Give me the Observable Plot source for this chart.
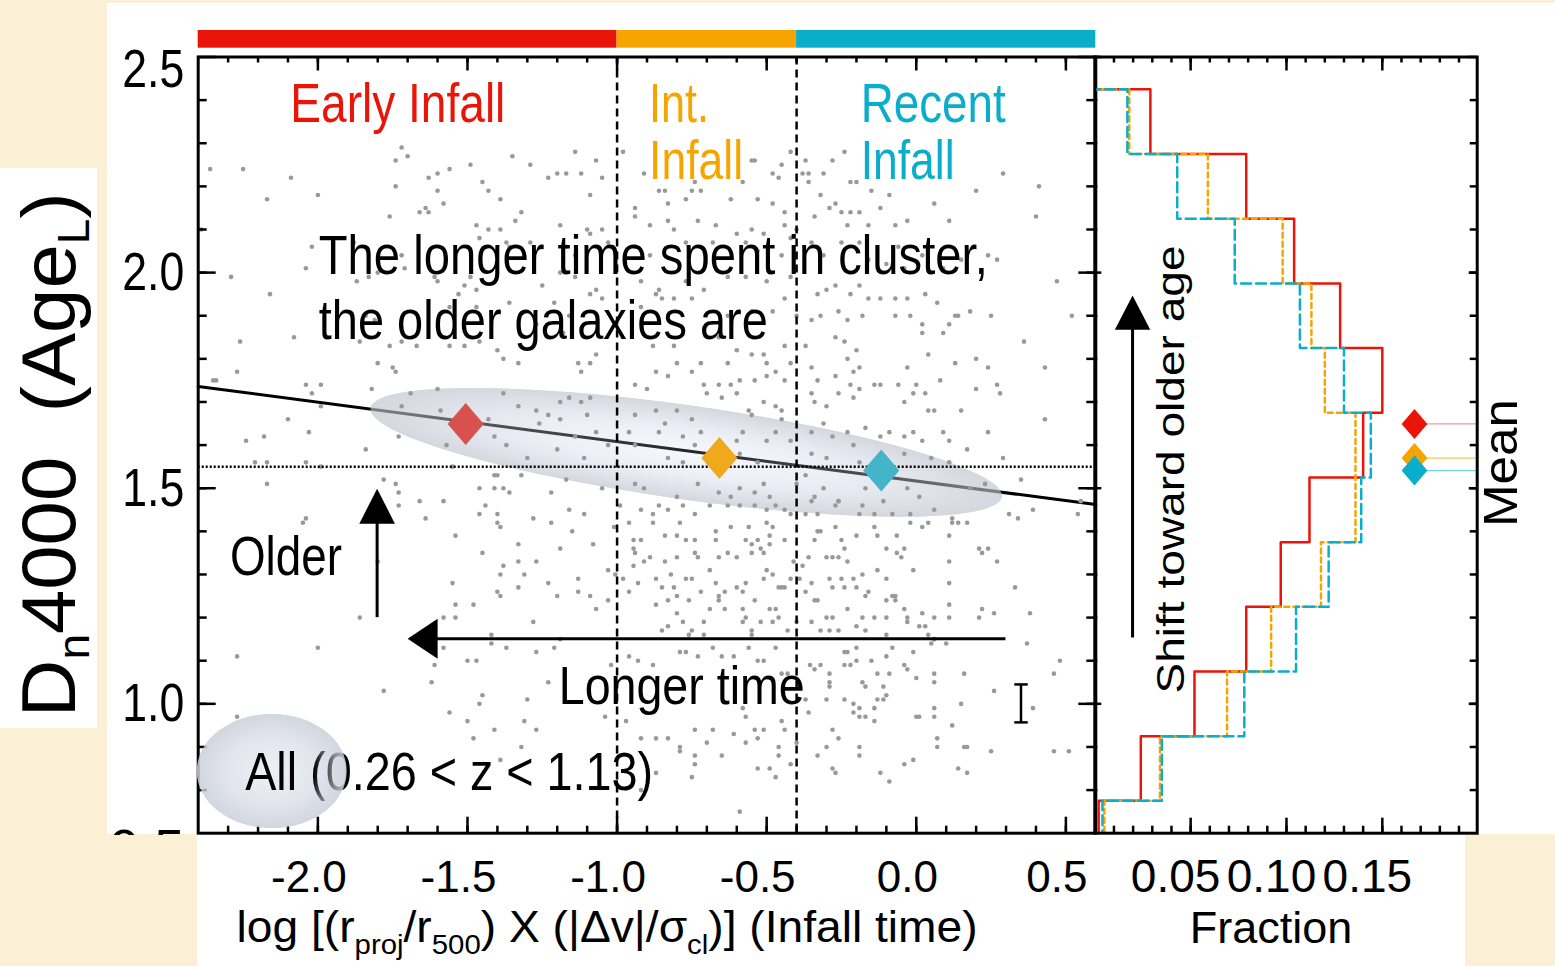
<!DOCTYPE html>
<html><head><meta charset="utf-8">
<script src="https://cdn.jsdelivr.net/npm/d3@7"></script>
<script src="https://cdn.jsdelivr.net/npm/@observablehq/plot@0.6"></script>
<style>
html,body{margin:0;padding:0;background:#fbf0d6;width:1555px;height:966px;overflow:hidden;}
#wrap{position:relative;width:1555px;height:966px;}
.w{position:absolute;background:#fff;}
#wrap svg{position:absolute;left:0;top:0;overflow:visible;}
</style></head><body><div id="wrap">
<div class="w" style="left:107px;top:3px;width:1448px;height:831px"></div>
<div class="w" style="left:197px;top:834px;width:1268px;height:132px"></div>
<div class="w" style="left:0;top:168px;width:97px;height:560px"></div>
</div>
<script>
// ---------------- data ----------------
const groupNames = ["Early Infall", "Int. Infall", "Recent Infall"];
const groupBounds = [-2.4, -1.0, -0.4, 0.6];
const meanX = [-1.506, -0.658, -0.117];
const meanY = [1.649, 1.570, 1.541];
const fitLine = [{x: -2.4, y: 1.736}, {x: 0.6, y: 1.462}];
const referenceLevel = 1.55;
const bigEllipseEnds = [[-1.822, 1.685], [0.288, 1.479]];
const allEllipseEnds = [[-2.403, 0.843], [-1.902, 0.843]];
const errorBar = {x: 0.35, lo: 0.957, hi: 1.045};
const xTicksMajor = [-2.0, -1.5, -1.0, -0.5, 0.0, 0.5];
const yTicksMajor = [1.0, 1.5, 2.0, 2.5];
const fracTicksMajor = [0.05, 0.10, 0.15];
const binCenters = [0.70, 0.85, 1.00, 1.15, 1.30, 1.45, 1.60, 1.75, 1.90, 2.05, 2.20, 2.35, 2.50];
const binWidth = 0.15;
const earlyFrac  = [0.002, 0.024, 0.052, 0.079, 0.097, 0.112, 0.140, 0.150, 0.128, 0.104, 0.079, 0.029, 0.0];
const interFrac  = [0.005, 0.034, 0.069, 0.092, 0.118, 0.136, 0.136, 0.120, 0.113, 0.098, 0.059, 0.018, 0.0];
const recentFrac = [0.004, 0.035, 0.078, 0.105, 0.122, 0.139, 0.144, 0.130, 0.107, 0.073, 0.043, 0.017, 0.0];
const meanMarkFrac = 0.1668;
// galaxies: upper part of the cloud
const galaxiesUpper = [
[-1.18,1.86],[-0.88,1.83],[-0.81,1.83],[-0.66,1.85],[-0.60,1.82],[-0.55,1.81],[-0.44,1.83],[-0.37,1.83],[-0.27,1.85],[-0.24,1.84],[-0.20,1.82],[0.02,1.86],[0.09,1.86],[0.36,1.84],[0.04,1.81],[-1.07,1.81],[-1.13,1.79],[-1.09,1.79],[-0.80,1.79],[-0.72,1.79],[-0.63,1.79],[-0.51,1.81],[-0.50,1.79],[-0.42,1.79],[-0.35,1.78],[-0.23,1.80],[-0.19,1.78],[0.13,1.79],[0.20,1.80],[0.24,1.78],[0.43,1.78],[-0.03,1.78],
[-1.12,1.77],[-0.87,1.77],[-0.83,1.76],[-0.75,1.77],[-0.71,1.74],[-0.66,1.74],[-0.62,1.74],[-0.59,1.75],[-0.54,1.75],[-0.50,1.76],[-0.47,1.77],[-0.44,1.75],[-0.33,1.75],[-0.27,1.76],[-0.21,1.77],[-0.22,1.74],[-0.14,1.74],[-0.12,1.74],[-0.06,1.74],[0.00,1.74],[0.08,1.75],[0.27,1.74],[0.20,1.73],[-0.01,1.72],[0.03,1.72],[-1.19,1.70],[-1.27,1.68],[-1.23,1.67],[-1.16,1.71],[-1.12,1.70],[-1.09,1.71],[-0.94,1.74],[-0.90,1.73],[-0.70,1.72],[-0.65,1.71],[-0.60,1.72],[-0.51,1.70],[-0.47,1.69],[-0.45,1.68],[-0.35,1.72],[-0.34,1.70],[-0.30,1.69],[-0.26,1.72],[-0.21,1.71],[-0.19,1.73],[-0.04,1.70],[0.04,1.68],[0.06,1.68],[0.15,1.68],[0.28,1.72],[-0.87,1.68],[-0.94,1.67],[-0.80,1.68],[-0.56,1.68],
[-1.26,1.65],[-1.19,1.66],[-1.10,1.67],[-1.07,1.63],[-1.14,1.62],[-1.20,1.59],[-1.30,1.57],[-1.11,1.57],[-1.03,1.60],[-0.96,1.63],[-0.94,1.60],[-0.86,1.63],[-0.84,1.65],[-0.78,1.62],[-0.74,1.60],[-0.72,1.63],[-0.75,1.66],[-0.60,1.61],[-0.58,1.63],[-0.55,1.67],[-0.50,1.61],[-0.47,1.63],[-0.45,1.66],[-0.42,1.61],[-0.35,1.63],[-0.31,1.65],[-0.28,1.62],[-0.23,1.63],[-0.21,1.60],[-0.17,1.64],[-0.12,1.62],[-0.09,1.63],[-0.04,1.62],[-0.01,1.63],[0.02,1.61],[0.09,1.63],[0.11,1.61],[0.17,1.59],[0.24,1.63],[0.29,1.57],[-0.83,1.57],[-0.78,1.56],[-0.59,1.58],[-0.53,1.56],[-0.35,1.58],[-0.30,1.57],[-0.19,1.56],[0.05,1.57],[0.11,1.56],[-0.04,1.58],
[-1.32,1.53],[-1.22,1.49],[-1.17,1.52],[-1.16,1.45],[-1.11,1.44],[-1.05,1.50],[-0.94,1.51],[-0.91,1.50],[-0.80,1.48],[-0.73,1.51],[-0.66,1.49],[-0.62,1.48],[-0.59,1.50],[-0.54,1.49],[-0.51,1.51],[-0.49,1.48],[-0.40,1.51],[-0.37,1.53],[-0.34,1.48],[-0.31,1.50],[-0.26,1.47],[-0.17,1.50],[-0.11,1.47],[-0.03,1.50],[0.01,1.48],[0.18,1.50],[0.23,1.51],
[-1.28,1.43],[-1.22,1.42],[-1.15,1.40],[-1.08,1.37],[-1.19,1.36],[-1.27,1.33],[-1.31,1.30],[-1.23,1.28],[-1.20,1.25],[-1.13,1.29],[-1.13,1.26],[-1.09,1.25],[-1.28,1.19],[-1.19,1.15],[-1.07,1.22],[-1.27,1.12],[-1.21,1.13],
[-1.14,2.28],[-1.29,2.25],[-1.23,2.22],[-1.20,2.23],[-1.17,2.23],[-1.12,2.23],[-1.07,2.26],[-1.09,2.18],[-1.05,2.22],[-0.98,2.28],[-0.91,2.23],[-0.86,2.19],[-0.84,2.19],[-0.75,2.19],[-0.72,2.19],[-0.74,2.21],[-0.77,2.17],[-0.62,2.17],[-0.58,2.21],[-0.55,2.26],[-0.54,2.26],[-0.53,2.17],[-0.48,2.23],[-0.45,2.25],[-0.46,2.22],[-0.42,2.28],[-0.37,2.26],[-0.36,2.23],[-0.38,2.23],[-0.31,2.23],[-0.36,2.21],[-0.32,2.18],[-0.28,2.26],[-0.22,2.21],[-0.20,2.21],[-0.15,2.19],[-0.24,2.28],[-0.09,2.18],[0.20,2.19],[0.29,2.23],[0.41,2.20],[-0.94,2.15],[-0.83,2.16],[-0.48,2.16],[-0.44,2.14],[-0.34,2.13],[-0.29,2.15],[-0.27,2.16],[-0.25,2.14],[-0.22,2.14],[-0.19,2.14],[-0.12,2.15],[0.06,2.16],[0.11,2.12],[-0.03,2.12],[-0.07,2.11],[-0.16,2.11],[-0.23,2.11],[-1.32,2.14],[-1.19,2.11],[-1.10,2.10],[-1.05,2.10],[-0.89,2.11],[-0.83,2.12],[-0.81,2.10],[-0.73,2.12],[-0.67,2.11],[-0.55,2.10],[-0.51,2.09],[-0.44,2.11],[-0.40,2.10],[-0.94,2.13],
[-1.29,2.07],[-1.17,2.06],[-1.14,2.04],[-1.09,2.09],[-1.03,2.07],[-0.94,2.06],[-0.89,2.04],[-0.77,2.07],[-0.68,2.07],[-0.60,2.09],[-0.57,2.07],[-0.53,2.05],[-0.45,2.04],[-0.42,2.08],[-0.35,2.07],[-0.31,2.04],[-0.25,2.07],[-0.19,2.07],[-0.16,2.03],[-0.10,2.02],[-0.06,2.06],[-0.04,2.01],[0.02,2.04],[0.09,2.01],[0.15,2.03],[0.24,2.04],[0.27,2.03],[-1.25,1.97],[-1.19,2.00],[-1.14,1.99],[-1.07,1.96],[-0.92,1.98],[-0.86,1.96],[-0.77,1.98],[-0.71,1.96],[-0.63,1.99],[-0.57,1.99],[-0.50,1.98],[-0.42,1.99],[-0.33,1.95],[-0.30,1.96],[-0.27,1.97],[-0.22,1.95],[-0.19,1.97],[-0.16,1.94],[-0.12,1.94],[-0.07,1.94],[-0.03,1.94],[0.03,1.95],[0.07,1.93],[0.13,1.90],[0.18,1.91],[0.25,1.90],[-1.21,1.93],[-1.16,1.90],[-1.09,1.95],[-1.05,1.94],[-0.92,1.92],[-0.87,1.95],[-0.85,1.94],[-0.81,1.94],[-0.75,1.94],[-0.63,1.90],[-0.55,1.91],[-0.48,1.91],[-0.44,1.94],[-0.40,1.90],[-0.35,1.89],[-0.32,1.90],[-0.26,1.91],[-0.23,1.89],[-0.18,1.90],[-0.07,1.90],[-0.02,1.90],[0.02,1.88],[0.11,1.88],[0.14,1.90],[-1.27,1.88],
[0.40,2.13],[0.47,1.98],[0.52,1.90],[0.43,1.66],[0.35,1.52],[0.55,1.47]
];
// left (early infall) part of the cloud
const galaxiesLeft = [
[-2.36,2.24],[-2.25,2.24],[-2.09,2.22],[-2.17,2.17],[-2.00,2.18],[-1.72,2.29],[-1.70,2.27],[-1.74,2.26],[-1.56,2.24],[-1.49,2.25],[-1.35,2.27],[-1.63,2.22],[-1.60,2.23],[-1.74,2.20],[-1.60,2.19],[-1.45,2.21],[-1.43,2.19],[-1.39,2.17],[-1.58,2.16],[-1.64,2.15],[-1.63,2.14],[-1.66,2.14],[-1.76,2.13],[-1.34,2.12],[-1.47,2.11],[-1.43,2.10],[-1.39,2.10],[-1.46,2.08],[-1.37,2.07],[-2.39,2.10],[-2.02,2.06],[-2.04,2.01],[-2.29,1.99],[-2.16,1.95],[-1.87,1.98],[-1.83,1.99],[-1.80,2.00],[-1.72,2.04],[-1.71,2.01],[-1.61,1.99],[-1.60,1.98],[-1.49,1.99],[-1.47,1.96],[-1.51,1.97],[-1.53,1.95],[-1.56,1.92],[-1.47,1.92],[-1.36,1.93],[-1.84,1.90],[-1.81,1.89],[-1.88,2.07],[-1.36,2.06],
[-2.26,1.84],[-2.08,1.85],[-1.86,1.84],[-1.76,1.83],[-1.72,1.84],[-1.67,1.83],[-1.56,1.83],[-1.51,1.83],[-1.46,1.84],[-1.40,1.82],[-1.38,1.80],[-1.33,1.79],[-1.80,1.79],[-1.75,1.78],[-1.74,1.77],[-2.27,1.77],[-2.35,1.75],[-2.34,1.75],[-2.04,1.74],[-2.02,1.72],[-1.99,1.74],[-1.82,1.73],[-1.69,1.72],[-1.60,1.73],[-1.38,1.72],[-1.99,1.69],[-1.72,1.69],[-1.59,1.68],[-2.10,1.66],[-1.43,1.66],[-1.33,1.69],[-2.24,1.61],[-2.18,1.62],[-2.03,1.63],[-1.84,1.59],[-1.73,1.62],[-1.57,1.60],[-1.41,1.62],[-1.37,1.60],[-2.21,1.56],[-2.17,1.56],[-2.04,1.56],[-1.99,1.55],[-1.55,1.55],[-1.41,1.53],[-1.40,1.53],[-2.17,1.51],[-1.78,1.52],[-1.74,1.51],[-1.73,1.49],[-1.46,1.50],[-1.41,1.50],[-1.38,1.50],[-1.36,1.49],[-1.73,1.46],[-1.66,1.47],[-1.58,1.47],[-1.44,1.46],[-1.46,1.44],[-1.40,1.44],[-2.04,1.43],[-2.05,1.42],[-1.64,1.43],[-1.40,1.42],[-1.39,1.41],[-1.54,1.39],[-1.33,1.37],[-1.45,1.35],[-1.38,1.32],[-1.80,1.33],[-1.39,1.30],[-1.55,1.28],[-1.40,1.26],[-1.39,1.25],[-1.54,1.23],[-1.48,1.23],[-1.33,1.27],[-1.33,1.33],[-1.86,1.20],[-1.58,1.20],[-1.54,1.20],[-1.42,1.16],[-1.42,1.14],[-1.37,1.13],[-1.58,1.13],[-2.27,1.11],[-2.00,1.13],
[-1.61,1.09],[-1.50,1.10],[-1.47,1.10],[-1.62,1.05],[-1.78,1.03],[-1.45,1.02],[-1.46,1.00],[-1.56,0.98],[-1.50,0.96],[-1.41,0.94],[-1.48,0.92],[-2.27,0.97],[-2.26,0.83],[-1.39,0.87],[-1.32,0.90],
[-1.23,1.05],[-1.30,1.01],[-1.31,0.96],[-1.27,0.94]
];
// lower-right part of the cloud
const galaxiesLower = [
[-0.99,1.46],[-0.92,1.45],[-0.86,1.46],[-0.88,1.44],[-0.83,1.45],[-0.78,1.46],[-0.74,1.44],[-0.69,1.46],[-0.63,1.46],[-0.59,1.46],[-0.54,1.46],[-0.50,1.45],[-0.47,1.46],[-0.44,1.45],[-0.42,1.44],[-0.35,1.47],[-0.33,1.44],[-0.27,1.46],[-0.26,1.47],[-0.19,1.44],[-0.18,1.46],[-0.14,1.44],[-0.08,1.44],[-0.02,1.44],[0.06,1.45],[0.12,1.43],[0.31,1.44],[0.34,1.43],[0.39,1.45],[0.54,1.44],[-1.01,1.41],[-0.96,1.42],[-0.88,1.42],[-0.79,1.42],[-0.67,1.40],[-0.62,1.41],[-0.56,1.41],[-0.50,1.42],[-0.48,1.41],[-0.37,1.44],[-0.33,1.40],[-0.32,1.40],[-0.27,1.41],[-0.20,1.39],[-0.14,1.41],[-0.065,1.39],[-0.02,1.42],[0.02,1.41],[0.04,1.42],[0.12,1.42],[0.14,1.42],[0.17,1.42],
[-0.945,1.38],[-0.92,1.38],[-0.84,1.39],[-0.80,1.39],[-0.77,1.38],[-0.74,1.38],[-0.67,1.38],[-0.57,1.38],[-0.53,1.38],[-0.49,1.39],[-0.44,1.38],[-0.34,1.38],[-0.25,1.38],[-0.13,1.39],[-0.945,1.36],[-0.94,1.35],[-0.945,1.32],[-0.89,1.34],[-0.91,1.33],[-0.84,1.33],[-0.80,1.34],[-0.74,1.35],[-0.73,1.34],[-0.66,1.34],[-0.63,1.35],[-0.60,1.34],[-0.55,1.37],[-0.55,1.35],[-0.52,1.36],[-0.49,1.37],[-0.51,1.35],[-0.41,1.33],[-0.38,1.32],[-0.36,1.34],[-0.30,1.34],[-0.28,1.34],[-0.26,1.34],[-0.24,1.36],[-0.23,1.33],[-0.10,1.36],[-0.065,1.35],[-0.04,1.36],[-0.05,1.34],[0.11,1.39],[0.21,1.36],[0.24,1.36],[0.22,1.35],[0.27,1.33],[0.11,1.33],
[-1.03,1.31],[-1.006,1.30],[-0.98,1.29],[-0.93,1.28],[-0.96,1.26],[-0.87,1.29],[-0.82,1.30],[-0.85,1.27],[-0.81,1.27],[-0.77,1.29],[-0.75,1.29],[-0.80,1.25],[-0.76,1.24],[-0.72,1.26],[-0.69,1.31],[-0.67,1.28],[-0.64,1.26],[-0.66,1.25],[-0.60,1.27],[-0.57,1.28],[-0.58,1.26],[-0.54,1.24],[-0.51,1.29],[-0.50,1.31],[-0.46,1.27],[-0.45,1.27],[-0.48,1.30],[-0.44,1.27],[-0.42,1.29],[-0.39,1.29],[-0.35,1.28],[-0.37,1.26],[-0.34,1.24],[-0.33,1.24],[-0.29,1.29],[-0.28,1.27],[-0.25,1.29],[-0.24,1.27],[-0.21,1.29],[-0.20,1.27],[-0.18,1.30],[-0.16,1.26],[-0.17,1.25],[-0.13,1.31],[-0.10,1.29],[-0.08,1.25],[-0.01,1.31],[0.11,1.28],[0.33,1.27],[-0.10,1.24],
[-1.03,1.24],[-0.87,1.23],[-0.83,1.24],[-0.80,1.21],[-0.78,1.19],[-0.83,1.18],[-0.85,1.17],[-0.75,1.17],[-0.71,1.19],[-0.69,1.22],[-0.66,1.24],[-0.64,1.22],[-0.58,1.22],[-0.57,1.20],[-0.58,1.19],[-0.55,1.17],[-0.52,1.19],[-0.49,1.22],[-0.47,1.22],[-0.48,1.19],[-0.46,1.20],[-0.43,1.17],[-0.40,1.19],[-0.35,1.19],[-0.32,1.17],[-0.30,1.20],[-0.28,1.20],[-0.29,1.17],[-0.26,1.17],[-0.23,1.22],[-0.20,1.18],[-0.18,1.20],[-0.17,1.17],[-0.14,1.20],[-0.10,1.20],[-0.10,1.16],[-0.07,1.25],[-0.07,1.24],[-0.04,1.22],[-0.03,1.20],[-0.03,1.19],[0.02,1.21],[0.01,1.18],[0.03,1.18],[0.06,1.20],[0.04,1.16],[0.06,1.15],[0.11,1.23],[0.11,1.20],[0.21,1.20],[0.22,1.22],[0.26,1.21],[0.38,1.21],[-0.76,1.16],[-0.71,1.16],[-0.55,1.16],
[-1.02,1.09],[-0.96,1.11],[-0.93,1.10],[-0.88,1.09],[-0.79,1.12],[-0.77,1.12],[-0.73,1.11],[-0.68,1.13],[-0.65,1.11],[-0.61,1.11],[-0.56,1.13],[-0.53,1.10],[-0.51,1.10],[-0.47,1.13],[-0.45,1.07],[-0.43,1.07],[-0.355,1.09],[-0.34,1.08],[-0.32,1.09],[-0.29,1.07],[-0.29,1.05],[-0.24,1.12],[-0.23,1.12],[-0.20,1.13],[-0.24,1.09],[-0.22,1.09],[-0.20,1.10],[-0.18,1.05],[-0.17,1.04],[-0.15,1.10],[-0.13,1.07],[-0.11,1.04],[-0.10,1.11],[-0.08,1.13],[-0.09,1.07],[-0.04,1.09],[-0.03,1.08],[-0.01,1.12],[0.00,1.06],[0.05,1.14],[0.06,1.15],[0.06,1.07],[0.06,1.05],[0.16,1.07],[0.26,1.03],[0.37,1.14],[0.46,1.07],[0.48,1.10],[0.10,1.14],
[-1.04,0.97],[-0.97,0.96],[-0.92,0.92],[-0.87,0.92],[-0.83,0.92],[-0.74,0.94],[-0.68,0.94],[-0.61,0.93],[-0.57,0.97],[-0.54,0.94],[-0.51,0.94],[-0.45,0.96],[-0.44,0.94],[-0.37,1.01],[-0.36,0.98],[-0.30,1.01],[-0.29,1.04],[-0.28,0.94],[-0.24,1.01],[-0.21,1.00],[-0.19,0.99],[-0.21,0.98],[-0.19,0.97],[-0.17,0.97],[-0.14,0.99],[-0.13,1.01],[-0.11,1.01],[-0.10,1.02],[-0.14,0.96],[0.00,0.97],[0.01,0.97],[0.06,0.99],[0.06,0.97],[0.12,0.95],[0.15,1.00],[0.39,0.99],[-0.58,0.99],
[-0.79,0.90],[-0.79,0.89],[-0.74,0.88],[-0.74,0.86],[-0.75,0.83],[-0.87,0.84],[-0.92,0.80],[-0.70,0.91],[-0.65,0.88],[-0.57,0.91],[-0.53,0.92],[-0.53,0.85],[-0.49,0.85],[-0.47,0.83],[-0.46,0.90],[-0.46,0.88],[-0.42,0.86],[-0.40,0.91],[-0.33,0.88],[-0.30,0.90],[-0.28,0.85],[-0.27,0.84],[-0.26,0.92],[-0.19,0.90],[-0.19,0.88],[-0.12,0.84],[-0.09,0.82],[-0.04,0.86],[-0.01,0.87],[0.07,0.92],[0.07,0.90],[0.14,0.85],[0.17,0.84],[0.16,0.90],[0.17,0.90],[0.25,0.89],[0.46,0.89],[0.51,0.89],[-0.59,0.75]
];

// ---------------- layout / style ----------------
const FONT = "'Liberation Sans', Helvetica, Arial, sans-serif";
const W = 1555, H = 966;
const frameTop = 56.5, frameBottom = 832.7;
const mainLeft = 197.7, mainRight = 1095.3;
const histLeft = 1094.3, histRight = 1476.7;
const fh = frameBottom - frameTop;
const fwMain = mainRight - mainLeft, fwHist = histRight - histLeft;
const RED = "#ea1409", ORANGE = "#f6a500", TEAL = "#0aadca";
const groupColors = [RED, ORANGE, TEAL];
const mutedColors = ["#d9514d", "#f0a91c", "#44b4c9"];
const meanLineColors = ["#f59a9a", "#f8c35a", "#74d1e4"];

const fitWidths = new Map([
  ["Early Infall", 215], ["Int.", 60], ["Infall", 94], ["Recent", 145],
  ["The longer time spent in cluster,", 669], ["the older galaxies are", 449],
  ["Older", 112], ["Longer time", 246], ["All (0.26 < z < 1.13)", 408],
  ["2.5", 62], ["2.0", 62], ["1.5", 62], ["1.0", 62],
  ["Shift toward older age", 448], ["Mean", 128]
]);

const diamondSym = {draw(ctx, size) { const r = Math.sqrt(size / Math.PI), w = r * 0.86;
  ctx.moveTo(0, -r); ctx.lineTo(w, 0); ctx.lineTo(0, r); ctx.lineTo(-w, 0); ctx.closePath(); }};
function headSym(len, half, dir) {
  return {draw(ctx) {
    ctx.moveTo(0, 0);
    if (dir === "up") { ctx.lineTo(half, len); ctx.lineTo(-half, len); }
    else { ctx.lineTo(len, -half); ctx.lineTo(len, half); }
    ctx.closePath();
  }};
}

let gradCount = 0;
function ellipseMark(ends, minorPx, stops) {
  return (index, scales) => {
    const id = "eg" + (gradCount++);
    const x1 = scales.x(ends[0][0]), y1 = scales.y(ends[0][1]);
    const x2 = scales.x(ends[1][0]), y2 = scales.y(ends[1][1]);
    const cx = (x1 + x2) / 2, cy = (y1 + y2) / 2;
    const rx = Math.hypot(x2 - x1, y2 - y1) / 2;
    const ang = Math.atan2(y2 - y1, x2 - x1) * 180 / Math.PI;
    const g = d3.create("svg:g");
    const grad = g.append("defs").append("radialGradient").attr("id", id);
    for (const [o, c, op] of stops) grad.append("stop").attr("offset", o).attr("stop-color", c).attr("stop-opacity", op);
    g.append("ellipse").attr("cx", cx).attr("cy", cy).attr("rx", rx).attr("ry", minorPx)
      .attr("transform", `rotate(${ang} ${cx} ${cy})`).attr("fill", `url(#${id})`);
    return g.node();
  };
}

function richText(parts, o) {
  return (index, scales) => {
    const px = scales.x(o.x), py = scales.y(o.y);
    const t = d3.create("svg:text")
      .attr("transform", `translate(${px},${py}) rotate(${o.rotate || 0})`)
      .attr("text-anchor", "start").attr("xml:space", "preserve")
      .attr("font-family", FONT).attr("font-size", o.size).attr("fill", "black");
    let shift = 0;
    for (const p of parts) {
      const ts = t.append("tspan").text(p.t);
      const target = p.sub ? o.subShift : 0;
      if (target !== shift) { ts.attr("dy", target - shift); shift = target; }
      if (p.sub) ts.attr("font-size", o.subSize);
    }
    if (o.length) t.attr("textLength", o.length).attr("lengthAdjust", "spacingAndGlyphs");
    return t.node();
  };
}

function ticksX(vals, len, side, w = 2.5) {
  const opt = {x: d => d, stroke: "black", strokeWidth: w};
  opt[side === "bottom" ? "insetTop" : "insetBottom"] = fh - len;
  return Plot.tickX(vals, opt);
}
function ticksY(vals, len, side, fw, w = 2.5) {
  const opt = {y: d => d, stroke: "black", strokeWidth: w};
  opt[side === "left" ? "insetRight" : "insetLeft"] = fw - len;
  return Plot.tickY(vals, opt);
}
function annot(text, x, y, fill, size) {
  return Plot.text([text], {x: () => x, y: () => y, text: d => d, fill, fontSize: size,
    textAnchor: "start", lineAnchor: "bottom", fontFamily: FONT});
}

const xMinor = d3.range(-23, 6).map(i => i / 10);
const yMinor = d3.range(8, 25).map(i => i / 10);
const fracMinor = d3.range(1, 20).map(i => i / 100);

function stepPoints(vals) {
  const pts = [];
  for (let i = binCenters.length - 1; i >= 0; i--) {
    pts.push({x: vals[i], y: binCenters[i] + binWidth / 2});
    pts.push({x: vals[i], y: binCenters[i] - binWidth / 2});
  }
  return pts;
}

const bigStops = [[0, "#f8f9fe", 1], [0.45, "#eff2f9", 1], [0.8, "#e0e3eb", 1], [1, "#d4d7dd", 1]];
const bigOverlay = [[0, "#eef1f8", 0.15], [0.6, "#e4e7ee", 0.35], [1, "#d4d7dd", 0.6]];
const allStops = [[0, "#eef0f6", 1], [0.6, "#e2e5ed", 1], [1, "#d2d6df", 1]];
const allOverlay = [[0, "#e2e5ed", 0], [0.55, "#e2e5ed", 0], [1, "#d2d6df", 0.85]];
const galaxies = [...galaxiesUpper, ...galaxiesLeft, ...galaxiesLower];

// ---------------- main panel ----------------
const main = Plot.plot({
  width: W, height: H,
  marginLeft: mainLeft, marginRight: W - mainRight, marginTop: frameTop, marginBottom: H - frameBottom,
  style: {background: "transparent", fontFamily: FONT, overflow: "visible"},
  x: {domain: [-2.4, 0.6], axis: null},
  y: {domain: [0.7, 2.5], axis: null},
  marks: [
    ...groupNames.map((g, i) => Plot.rect([g], {x1: groupBounds[i], x2: groupBounds[i + 1], fill: groupColors[i],
      insetTop: -26.5, insetBottom: frameBottom - 47.7, insetLeft: 0, insetRight: 0})),
    ellipseMark(bigEllipseEnds, 47, bigStops),
    Plot.line(fitLine, {x: "x", y: "y", stroke: "black", strokeWidth: 3}),
    ellipseMark(bigEllipseEnds, 47, bigOverlay),
    Plot.dot(galaxies, {x: d => d[0], y: d => d[1], r: 2.3, fill: "#999999"}),
    Plot.ruleY([referenceLevel], {stroke: "black", strokeWidth: 2.5, strokeDasharray: "2,2"}),
    Plot.ruleX(groupBounds.slice(1, 3), {stroke: "black", strokeWidth: 2.5, strokeDasharray: "8,5"}),
    ...groupNames.map((g, i) => Plot.dot([g], {x: () => meanX[i], y: () => meanY[i], r: 21, symbol: diamondSym, fill: mutedColors[i]})),
    ellipseMark(allEllipseEnds, 57, allStops),
    annot("Early Infall", -2.092, 2.349, RED, 55),
    annot("Int.", -0.893, 2.349, ORANGE, 55),
    annot("Infall", -0.893, 2.218, ORANGE, 55),
    annot("Recent", -0.186, 2.349, TEAL, 55),
    annot("Infall", -0.186, 2.218, TEAL, 55),
    annot("The longer time spent in cluster,", -1.997, 1.997, "black", 55),
    annot("the older galaxies are", -1.997, 1.847, "black", 55),
    annot("Older", -2.294, 1.298, "black", 55),
    annot("Longer time", -1.195, 1.0, "black", 53),
    annot("All (0.26 < z < 1.13)", -2.243, 0.801, "black", 54),
    // arrows
    Plot.link([0], {x1: -1.802, x2: -1.802, y1: 1.201, y2: 1.42, stroke: "black", strokeWidth: 3}),
    Plot.dot([0], {x: () => -1.802, y: () => 1.499, symbol: headSym(35, 17.8, "up"), fill: "black"}),
    Plot.link([0], {x1: 0.298, x2: -1.605, y1: 1.151, y2: 1.151, stroke: "black", strokeWidth: 3}),
    Plot.dot([0], {x: () => -1.700, y: () => 1.151, symbol: headSym(30, 20, "left"), fill: "black"}),
    // representative error bar
    Plot.link([errorBar], {x1: "x", x2: "x", y1: "lo", y2: "hi", stroke: "black", strokeWidth: 2.5}),
    Plot.link([errorBar], {x1: d => d.x - 0.0225, x2: d => d.x + 0.0225, y1: "lo", y2: "lo", stroke: "black", strokeWidth: 2.5}),
    Plot.link([errorBar], {x1: d => d.x - 0.0225, x2: d => d.x + 0.0225, y1: "hi", y2: "hi", stroke: "black", strokeWidth: 2.5}),
    // ticks & frame
    ticksX(xMinor, 7, "bottom"), ticksX(xTicksMajor, 16, "bottom"),
    ticksX(xMinor, 6, "top"), ticksX(xTicksMajor, 14, "top"),
    ticksY(yMinor, 9, "left", fwMain), ticksY(yTicksMajor, 18, "left", fwMain),
    ticksY(yMinor, 9, "right", fwMain), ticksY(yTicksMajor, 17, "right", fwMain),
    Plot.frame({stroke: "black", strokeWidth: 3}),
    ellipseMark(allEllipseEnds, 57, allOverlay),
    // tick labels
    Plot.text(xTicksMajor, {x: d => d, text: d => d.toFixed(1), frameAnchor: "bottom", dy: 59, dx: -9,
      lineAnchor: "bottom", fontSize: 44, fontFamily: FONT}),
    Plot.text(yTicksMajor.filter(v => v < 2.5), {y: d => d, text: d => d.toFixed(1), frameAnchor: "left", dx: -14,
      textAnchor: "end", lineAnchor: "middle", fontSize: 54, fontFamily: FONT}),
    Plot.text([2.5], {y: d => d, text: d => d.toFixed(1), frameAnchor: "left", dx: -14, dy: 12.5,
      textAnchor: "end", lineAnchor: "middle", fontSize: 54, fontFamily: FONT}),
    Plot.text([0.5], {text: d => d.toFixed(1), frameAnchor: "bottom-left", dx: -14, dy: 17,
      textAnchor: "end", lineAnchor: "middle", fontSize: 54, fontFamily: FONT}),
    // axis titles
    richText([{t: "log [(r"}, {t: "proj", sub: true}, {t: "/r"}, {t: "500", sub: true},
              {t: ") X (|\u0394v|/\u03c3"}, {t: "cl", sub: true}, {t: ")] (Infall time)"}],
             {x: -2.270, y: 0.4465, size: 44, subSize: 28, subShift: 12, length: 741}),
    richText([{t: "D"}, {t: "n", sub: true}, {t: "4000  (Age"}, {t: "L", sub: true}, {t: ")"}],
             {x: -2.810, y: 0.968, rotate: -90, size: 76, subSize: 44, subShift: 14, length: 525})
  ]
});

// ---------------- histogram panel ----------------
const hist = Plot.plot({
  width: W, height: H,
  marginLeft: histLeft, marginRight: W - histRight, marginTop: frameTop, marginBottom: H - frameBottom,
  style: {background: "transparent", fontFamily: FONT, overflow: "visible"},
  x: {domain: [0, 0.1995], axis: null},
  y: {domain: [0.7, 2.5], axis: null},
  marks: [
    Plot.line(stepPoints(earlyFrac), {x: "x", y: "y", stroke: RED, strokeWidth: 2.5, clip: true}),
    Plot.line(stepPoints(interFrac), {x: "x", y: "y", stroke: ORANGE, strokeWidth: 2.5, strokeDasharray: "5,4", clip: true}),
    Plot.line(stepPoints(recentFrac), {x: "x", y: "y", stroke: TEAL, strokeWidth: 2.5, strokeDasharray: "10,5", clip: true}),
    ...groupNames.map((g, i) => Plot.link([g], {x1: meanMarkFrac, x2: 0.1995, y1: meanY[i], y2: meanY[i], stroke: meanLineColors[i], strokeWidth: 1.3})),
    ...groupNames.map((g, i) => Plot.dot([g], {x: () => meanMarkFrac, y: () => meanY[i], r: 15, symbol: diamondSym, fill: groupColors[i]})),
    Plot.link([0], {x1: 0.0197, x2: 0.0197, y1: 1.154, y2: 1.87, stroke: "black", strokeWidth: 3}),
    Plot.dot([0], {x: () => 0.0197, y: () => 1.947, symbol: headSym(34.3, 17.7, "up"), fill: "black"}),
    Plot.text(["Shift toward older age"], {x: () => 0.0464, y: () => 1.024, text: d => d, rotate: -90,
      textAnchor: "start", lineAnchor: "bottom", fontSize: 38, fontFamily: FONT}),
    Plot.text(["Mean"], {x: () => 0.2202, y: () => 1.410, text: d => d, rotate: -90,
      textAnchor: "start", lineAnchor: "bottom", fontSize: 49, fontFamily: FONT}),
    ticksX(fracMinor, 7, "bottom"), ticksX(fracTicksMajor, 15, "bottom"),
    ticksX(fracMinor, 6, "top"), ticksX(fracTicksMajor, 14, "top"),
    ticksY(yMinor, 3, "left", fwHist), ticksY(yTicksMajor, 7, "left", fwHist),
    ticksY(yMinor, 7, "right", fwHist), ticksY(yTicksMajor, 8, "right", fwHist),
    Plot.frame({stroke: "black", strokeWidth: 3}),
    Plot.text(fracTicksMajor, {x: d => d, text: d => d.toFixed(2), frameAnchor: "bottom", dy: 59, dx: -15,
      lineAnchor: "bottom", fontSize: 46, fontFamily: FONT}),
    Plot.text(["Fraction"], {x: () => 0.0919, text: d => d, frameAnchor: "bottom", dy: 110,
      lineAnchor: "bottom", fontSize: 45, fontFamily: FONT})
  ]
});

const wrap = document.getElementById("wrap");
for (const svg of [main, hist]) {
  svg.querySelectorAll("text").forEach(t => {
    const L = fitWidths.get(t.textContent);
    if (L) { t.setAttribute("textLength", L); t.setAttribute("lengthAdjust", "spacingAndGlyphs"); }
  });
  wrap.appendChild(svg);
}
const cover = document.createElement("div");
cover.style.cssText = "position:absolute;left:100px;top:834.5px;width:97px;height:132px;background:#fbf0d6;";
wrap.appendChild(cover);
</script>
</body></html>
